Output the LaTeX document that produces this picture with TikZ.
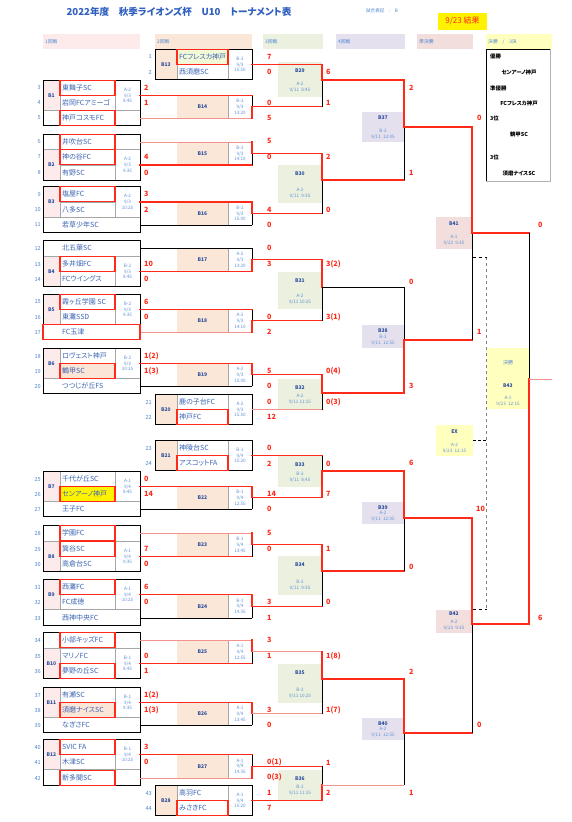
\documentclass[tikz,border=0pt]{standalone}
\usepackage{fontspec}
\setmainfont{Noto Sans CJK JP}[RawFeature=+palt]
\usepackage{xcolor}
\usetikzlibrary{positioning}

\definecolor{ttlblue}{HTML}{2F5FBF}
\definecolor{tblue}{HTML}{3B64B4}
\definecolor{nblue}{HTML}{4F86D0}
\definecolor{iblue}{HTML}{5F90D6}
\definecolor{lblue}{HTML}{2A4C9E}
\definecolor{tred}{HTML}{FF2A1A}
\definecolor{pred}{HTML}{F4938C}
\definecolor{bgpink}{HTML}{FDEBEC}
\definecolor{bgorange}{HTML}{FBE7D7}
\definecolor{bggreen}{HTML}{EBF1DE}
\definecolor{bglav}{HTML}{E5E0EE}
\definecolor{bgsemi}{HTML}{F2DEDD}
\definecolor{bgyel}{HTML}{FFFFBE}
\definecolor{hlpale}{HTML}{F3F8D6}
\definecolor{hlpeach}{HTML}{FBE5D6}

\begin{document}
\begin{tikzpicture}[x=1pt,y=-1pt,
    team/.style={anchor=west,inner sep=0pt,text=tblue,font=\fontsize{7}{8}\selectfont},
    num/.style={anchor=east,inner sep=0pt,text=nblue,font=\fontsize{5.6}{6}\selectfont},
    score/.style={anchor=west,inner sep=0pt,text=tred,font=\bfseries\fontsize{7.2}{8}\selectfont},
    info/.style={inner sep=0pt,align=center,text=iblue,font=\fontsize{4.6}{5.8}\selectfont},
    mlabel/.style={inner sep=0pt,text=lblue,font=\bfseries\fontsize{5}{5}\selectfont},
    head/.style={anchor=west,inner sep=0pt,text=nblue,font=\fontsize{4.8}{5}\selectfont},
    rank/.style={inner sep=0pt,text=black,font=\bfseries\fontsize{5.4}{6}\selectfont},
    cell/.style={draw=gray!70,line width=0.5pt},
    grp/.style={draw=black,line width=1pt},
    wbox/.style={draw=tred,line width=1.1pt},
    win/.style={draw=tred,line width=1.3pt,line cap=rect},
    lose/.style={draw=black,line width=0.8pt},
    pale/.style={draw=pred,line width=0.8pt},
]
\useasboundingbox (0,0) rectangle (572,822);
\fill[white] (0,0) rectangle (572,822);

% title
\node[inner sep=0pt,text=ttlblue,font=\bfseries\fontsize{9.6}{10}\selectfont] (title) at (179,12)
    {2022年度　秋季ライオンズ杯　U10　トーナメント表};
\node[inner sep=0pt,text=nblue,font=\fontsize{4.6}{5}\selectfont] (notation) at (382,11) {試合表記　:　B};
\node[fill=yellow,text=tred,inner sep=0pt,minimum width=49pt,minimum height=17pt,
    font=\fontsize{8}{9}\selectfont] (result) at (462.5,21) {9/23 結果};

% round headers
\foreach \xa/\xb/\c/\txt [count=\i] in {43/140/bgpink/1回戦, 155/252/bgorange/2回戦,
    263/323/bggreen/3回戦, 336/405/bglav/4回戦, 417/473/bgsemi/準決勝, 486/552/bgyel/{決勝　/　3決}}
{
    \fill[\c] (\xa,34) rectangle (\xb,49);
    \node[head] (hd\i) at (\xa+2,41.5) {\txt};
}

% highlighted names
\fill[hlpale] (177,49.35) rectangle (228,64.65);
\fill[hlpeach] (60,363.35) rectangle (115,378.65);
\fill[yellow] (60,486.35) rectangle (115,501.65);
\fill[hlpeach] (60,702.35) rectangle (115,717.65);

% 1st round groups
\foreach \g/\ya/\yb/\tm in {1/88/103/{A-2\\9/3\\8:45}, 2/157/173/{A-2\\9/3\\9:35},
    3/194/210/{A-2\\9/3\\10:25}, 4/264/279/{B-2\\9/3\\8:45}, 5/302/317/{B-2\\9/3\\9:35},
    6/356/371/{B-2\\9/3\\10:25}, 7/479/494/{A-1\\9/4\\8:45}, 8/549/564/{A-1\\9/4\\9:35},
    9/587/602/{A-1\\9/4\\10:25}, 10/656/671/{B-1\\9/4\\8:45}, 11/695/710/{B-1\\9/4\\9:35},
    12/747/762/{B-1\\9/4\\10:25}}
{
    \fill[bgpink] (43,\ya-7.65) rectangle (60,\yb+7.65);
    \draw[cell] (60,\ya-7.65) -- (60,\yb+7.65) (115,\ya-7.65) -- (115,\yb+7.65)
        (60,{(\ya+\yb)/2}) -- (115,{(\ya+\yb)/2})
        (43,\ya-7.65) -- (140,\ya-7.65) (43,\yb+7.65) -- (140,\yb+7.65);
    \node[mlabel] (g\g) at (51.5,{(\ya+\yb)/2}) {B\g};
    \node[info] (gi\g) at (127.5,{(\ya+\yb)/2}) {\tm};
}
\foreach \y in {118,142,533,640,778}
    \draw[cell] (60,\y-7.65) -- (60,\y+7.65) (115,\y-7.65) -- (115,\y+7.65);
\foreach \ta/\tb in {80.35/125.65, 134.35/180.65, 186.35/232.65, 240.35/286.65,
    294.35/339.65, 348.35/393.65, 471.35/516.65, 525.35/571.65, 579.35/625.65,
    632.35/678.65, 687.35/732.65, 739.35/785.65}
    \draw[grp] (43,\ta) rectangle (140,\tb);

% 2nd round, seeded pairs
\foreach \g/\ya/\yb/\tm in {13/57/72/{B-2\\9/3\\15:50}, 20/402/417/{A-2\\9/3\\15:50},
    21/448/463/{B-1\\9/4\\15:20}, 28/793/808/{A-1\\9/4\\15:20}}
{
    \fill[bgorange] (155,\ya-7.65) rectangle (177,\yb+7.65);
    \draw[cell] (177,\ya-7.65) -- (177,\yb+7.65) (228,\ya-7.65) -- (228,\yb+7.65)
        (177,{(\ya+\yb)/2}) -- (228,{(\ya+\yb)/2});
    \draw[grp] (155,\ya-7.65) rectangle (252,\yb+7.65);
    \node[mlabel] (m\g) at (166,{(\ya+\yb)/2}) {B\g};
    \node[info] (mi\g) at (240,{(\ya+\yb)/2}) {\tm};
}

% 2nd round matches
\foreach \g/\ya/\yb/\tm in {14/95.5/118/{B-2\\9/3\\13:20}, 15/142/165/{B-2\\9/3\\14:10},
    16/202/225/{B-2\\9/3\\15:00}, 17/248/271.5/{A-2\\9/3\\13:20}, 18/309.5/332/{A-2\\9/3\\14:10},
    19/363.5/386/{A-2\\9/3\\15:00}, 22/486.5/509/{B-1\\9/4\\12:55}, 23/533/556.5/{B-1\\9/4\\13:45},
    24/594.5/618/{B-1\\9/4\\14:35}, 25/640/663.5/{A-1\\9/4\\12:55}, 26/702.5/725/{A-1\\9/4\\13:45},
    27/754.5/778/{A-1\\9/4\\14:35}}
{
    \fill[bgorange] (177,\ya) rectangle (228,\yb);
    \draw[cell] (228,\ya) -- (228,\yb);
    \node[mlabel] (m\g) at (202.5,{(\ya+\yb)/2}) {B\g};
    \node[info] (mi\g) at (240,{(\ya+\yb)/2}) {\tm};
}

% 3rd round
\foreach \g/\ta/\tb/\tm in {29/62/97/{A-2\\9/11\enspace 8:45}, 30/165/203/{A-2\\9/11\enspace 9:35},
    31/272/309/{A-2\\9/11 10:25}, 32/379/409/{A-2\\9/11 11:15}, 33/456/487/{B-2\\9/11\enspace 8:45},
    34/556/595/{B-2\\9/11\enspace 9:35}, 35/664/703/{B-2\\9/11 10:25}, 36/770/800/{B-2\\9/11 11:15}}
{
    \fill[bggreen] (278,\ta) rectangle (322,\tb);
    \node[mlabel] (m\g) at (300,\ta+9) {B\g};
    \node[info] (mi\g) at (300,\tb-10) {\tm};
}

% 4th round
\foreach \g/\ta/\tb/\tm in {37/112/142/{B-2\\9/11\enspace 12:05}, 38/325/348/{B-2\\9/11\enspace 12:55},
    39/502/524/{A-2\\9/11\enspace 12:05}, 40/718/740/{A-2\\9/11\enspace 12:55}}
{
    \fill[bglav] (362,\ta) rectangle (404,\tb);
    \node[mlabel] (m\g) at (383,\ta+5.5) {B\g};
    \node[info] (mi\g) at (383,\tb-7.5) {\tm};
}

% semi finals, final, 3rd place
\fill[bgsemi] (436,217) rectangle (472,249);
\node[mlabel] (m41) at (454,224) {B41};
\node[info] (mi41) at (454,240.5) {A-1\\9/23\enspace 9:35};
\fill[bgsemi] (436,610) rectangle (472,633);
\node[mlabel] (m42) at (454,614) {B42};
\node[info] (mi42) at (454,625.5) {A-2\\9/23\enspace 9:35};
\node[fill=bgyel,inner sep=0pt,minimum width=37pt,minimum height=31pt] (ex) at (454.5,440.5) {};
\node[mlabel] (mex) at (454.5,432) {EX};
\node[info] (miex) at (454.5,448) {A-2\\9/23\enspace 12:15};
\fill[bgyel] (487,348) rectangle (529,409);
\node[inner sep=0pt,text=nblue,font=\fontsize{5}{5}\selectfont] (fin) at (508,363) {決勝};
\node[mlabel] (m43) at (508,386) {B43};
\node[info] (mi43) at (508,401) {A-1\\9/23\enspace 12:15};

% bracket points
\foreach \g/\y in {1/95.5, 2/165, 3/202, 4/271.5, 5/309.5, 6/363.5, 7/486.5, 8/556.5,
    9/594.5, 10/663.5, 11/702.5, 12/754.5}
    \coordinate (w\g) at (140,\y);
\foreach \r/\y in {5/118, 6/142, 11/225, 12/248, 17/332, 20/386, 27/509, 28/533,
    33/618, 34/640, 39/725, 42/778}
    \coordinate (e\r) at (140,\y);
\foreach \g/\y in {13/64.5, 14/106.75, 15/153.5, 16/213.5, 17/259.75, 18/320.75, 19/374.75,
    20/409.5, 21/455.5, 22/497.75, 23/544.75, 24/606.25, 25/651.75, 26/713.75, 27/766.25, 28/800.5}
    \coordinate (b\g) at (252,\y);
\foreach \g/\y in {29/80, 30/180, 31/287, 32/393, 33/471, 34/571, 35/679, 36/785}
    \coordinate (b\g) at (322,\y);
\foreach \g/\y in {37/127, 38/340, 39/518, 40/733}
    \coordinate (b\g) at (404,\y);
\coordinate (b41) at (472,233);
\coordinate (b42) at (472,624);
\coordinate (b43) at (529,379);
\coordinate (champ) at (552,379);

% connectors: from / to / horizontal / vertical
\foreach \p/\m/\h/\v in {w1/b14/win/lose, e5/b14/pale/win, e6/b15/pale/win, w2/b15/win/lose,
    w3/b16/win/win, e11/b16/lose/lose, e12/b17/lose/lose, w4/b17/win/win,
    w5/b18/win/lose, e17/b18/pale/win, w6/b19/win/win, e20/b19/lose/lose,
    w7/b22/win/win, e27/b22/lose/lose, e28/b23/pale/win, w8/b23/win/lose,
    w9/b24/win/win, e33/b24/lose/lose, e34/b25/pale/win, w10/b25/win/lose,
    w11/b26/win/win, e39/b26/lose/lose, w12/b27/win/lose, e42/b27/pale/win,
    b13/b29/win/win, b14/b29/win/lose, b15/b30/win/win, b16/b30/win/lose,
    b17/b31/win/win, b18/b31/win/lose, b19/b32/win/win, b20/b32/pale/lose,
    b21/b33/win/lose, b22/b33/win/win, b23/b34/win/win, b24/b34/win/lose,
    b25/b35/pale/win, b26/b35/pale/lose, b27/b36/win/lose, b28/b36/win/win,
    b29/b37/win/win, b30/b37/win/lose, b31/b38/lose/lose, b32/b38/win/win,
    b33/b39/win/win, b34/b39/win/lose, b35/b40/win/win, b36/b40/pale/lose,
    b37/b41/win/win, b38/b41/win/lose, b39/b42/win/win, b40/b42/win/lose,
    b41/b43/win/lose, b42/b43/win/win}
{
    \draw[\h] (\p) -- (\p-|\m);
    \draw[\v] (\p-|\m) -- (\m);
}
\draw[pale] (b43) -- (champ);

% 3rd place link
\coordinate (tpa) at (473,257);
\coordinate (tpb) at (486.5,257);
\coordinate (tpc) at (486.5,609);
\coordinate (tpd) at (473,609);
\draw[gray,dashed,line width=1.2pt] (tpb) -- (tpc);
\draw[black,dashed,line width=0.8pt] (tpa) -- (tpb) (tpd) -- (tpc);
\draw[black,densely dashed,line width=0.8pt] (ex.east) -- (ex.east-|tpb);

% winners' name boxes
\foreach \xa/\xb/\y in {177/228/57, 60/115/88, 60/115/118, 60/115/142, 60/115/157, 60/115/194,
    60/115/264, 60/115/302, 43/140/332, 60/115/371, 177/228/417, 177/228/463, 60/115/494,
    60/115/533, 60/115/549, 60/115/587, 60/115/640, 60/115/671, 60/115/710, 60/115/747,
    60/115/778, 177/228/808}
    \draw[wbox] (\xa,\y-7.4) rectangle (\xb,\y+7.4);

% team names
\foreach \n/\y/\txt in {3/88/東舞子SC, 4/103/岩岡FCアミーゴ, 5/118/神戸コスモFC, 6/142/井吹台SC,
    7/157/神の谷FC, 8/173/有野SC, 9/194/塩屋FC, 10/210/八多SC, 11/225/若草少年SC,
    12/248/北五葉SC, 13/264/多井畑FC, 14/279/FCウイングス, 15/302/霞ヶ丘学園 SC,
    16/317/東灘SSD, 17/332/FC玉津, 18/356/ロヴェスト神戸, 19/371/鶴甲SC, 20/386/つつじが丘FS,
    25/479/千代が丘SC, 26/494/センアーノ神戸, 27/509/王子FC, 28/533/学園FC, 29/549/箕谷SC,
    30/564/高倉台SC, 31/587/西灘FC, 32/602/FC成徳, 33/618/西神中央FC, 34/640/小部キッズFC,
    35/656/マリノFC, 36/671/夢野の丘SC, 37/695/有瀬SC, 38/710/須磨ナイスSC, 39/725/なぎさFC,
    40/747/SVIC FA, 41/762/木津SC, 42/778/新多聞SC}
{
    \node[num] (n\n) at (41,\y) {\n};
    \node[team] (t\n) at (62,\y) {\txt};
}
\foreach \n/\y/\txt in {1/57/FCフレスカ神戸, 2/72/西須磨SC, 21/402/鹿の子台FC, 22/417/神戸FC,
    23/448/神陵台SC, 24/463/アスコットFA, 43/793/高羽FC, 44/808/みさきFC}
{
    \node[num] (n\n) at (152,\y) {\n};
    \node[team] (t\n) at (179,\y) {\txt};
}

% scores
\foreach \x/\y/\s [count=\i] in {144/88/2, 144/103/1, 144/157/4, 144/173/0, 144/194/3, 144/210/2,
    144/264/10, 144/279/0, 144/302/6, 144/317/0, 144/356/1(2), 144/371/1(3), 144/479/0, 144/494/14,
    144/549/7, 144/564/0, 144/587/6, 144/602/0, 144/656/0, 144/671/1, 144/695/1(2), 144/710/1(3),
    144/747/3, 144/762/0,
    267/57/7, 267/72/0, 267/103/0, 267/118/5, 267/141/5, 267/157/0, 267/210/4, 267/225/0,
    267/248/0, 267/264/3, 267/317/0, 267/332/2, 267/371/5, 267/386/0, 267/402/0, 267/417/12,
    267/448/0, 267/464/2, 267/494/14, 267/509/0, 267/533/5, 267/549/0, 267/602/3, 267/618/1,
    267/640/3, 267/656/1, 267/710/3, 267/725/0, 267/762/0(1), 267/777/0(3), 267/793/1, 267/808/7,
    326/72/6, 326/103/1, 326/157/2, 326/210/0, 326/264/3(2), 326/317/3(1), 326/371/0(4),
    326/402/0(3), 326/464/0, 326/494/7, 326/549/1, 326/602/0, 326/656/1(8), 326/710/1(7),
    326/763/1, 326/793/2,
    409/88/2, 409/173/1, 409/282/0, 409/386/3, 409/463/6, 409/567/0, 409/672/2, 409/793/1,
    477/118/0, 477/332/1, 476/509/10, 477/725/0, 538/225/0, 538/618/6}
    \node[score] (s\i) at (\x,\y) {\s};

% results box
\draw[black,line width=0.8pt] (550,49) -- (486,49) -- (486,181);
\draw[gray!60,line width=1.6pt] (550.5,49) -- (550.5,181.5) -- (486,181.5);
\node[rank,anchor=west] (r1) at (490,56) {優勝};
\node[rank] (r1t) at (519,72) {センアーノ神戸};
\node[rank,anchor=west] (r2) at (490,88) {準優勝};
\node[rank] (r2t) at (519,103) {FCフレスカ神戸};
\node[rank,anchor=west] (r3) at (490,118) {3位};
\node[rank] (r3t) at (519,134) {鶴甲SC};
\node[rank,anchor=west] (r4) at (490,157) {3位};
\node[rank] (r4t) at (519,173) {須磨ナイスSC};
\end{tikzpicture}
\end{document}
